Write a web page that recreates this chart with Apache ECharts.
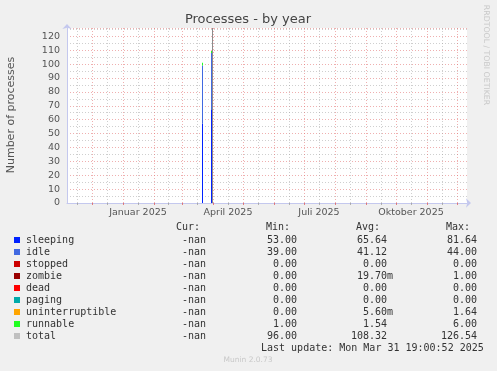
<!DOCTYPE html>
<html><head><meta charset="utf-8">
<script src="https://cdn.jsdelivr.net/npm/echarts@6/dist/echarts.min.js"></script>
<style>html,body{margin:0;padding:0;background:#f0f0f0}#c{width:497px;height:371px}</style>
</head><body><div id="c"></div><script>
// ---- axis range / ticks ----
const xStart = '2024-11-06';
const xEnd = '2025-12-11';
const monthLines = ['2024-12-01','2025-01-01','2025-02-01','2025-03-01','2025-04-01','2025-05-01','2025-06-01','2025-07-01','2025-08-01','2025-09-01','2025-10-01','2025-11-01','2025-12-01'];
const midLines = ['2024-11-16','2024-12-16','2025-01-16','2025-02-15','2025-03-16','2025-04-16','2025-05-16','2025-06-16','2025-07-16','2025-08-16','2025-09-16','2025-10-16','2025-11-16'];
const monthLabelDates = ['2025-01-16','2025-04-16','2025-07-16','2025-10-16'];
const monthLabels = ['Januar 2025','April 2025','Juli 2025','Oktober 2025'];
const yMax = 126;
const yInterval = 10;

// ---- series data (sample dates) ----
const sampleDates = ['2025-03-22','2025-03-31'];
const sleeping = [57, 67];
const idle = [42, 41];
const stopped = [0, 0];
const zombie = [0, 0];
const dead = [0, 0];
const paging = [0, 0];
const uninterruptible = [0, 0];
const runnable = [2, 1.5];
const total = [null, 126];

// ---- legend table ----
const names = ['sleeping','idle','stopped','zombie','dead','paging','uninterruptible','runnable','total'];
const colors = ['#0022ff','#4169e1','#cc0000','#990000','#ff0000','#00aaaa','#ffa500','#22ff22','#c0c0c0'];
const curVals = ['-nan','-nan','-nan','-nan','-nan','-nan','-nan','-nan','-nan'];
const minVals = ['53.00','39.00','0.00','0.00','0.00','0.00','0.00','1.00','96.00'];
const avgVals = ['65.64','41.12','0.00','19.70m','0.00','0.00','5.60m','1.54','108.32'];
const maxVals = ['81.64','44.00','0.00','1.00','0.00','0.00','1.64','6.00','126.54'];
const lastUpdate = 'Last update: Mon Mar 31 19:00:52 2025';

const ts = s => +new Date(s + 'T00:00:00Z');
const seriesValues = [sleeping, idle, stopped, zombie, dead, paging, uninterruptible, runnable];

// stack bases/tops derived from the values above
const running = sampleDates.map(() => 0);
const layers = seriesValues.map(vals => vals.map((v, j) => { const b = running[j]; running[j] += v; return [b, running[j]]; }));

// one-pixel stacked column drawn through the axes' own coordinate mapping
const makeRender = (color, side) => (params, api) => {
  const lo = api.value(1), hi = api.value(2);
  if (lo == null || hi == null || isNaN(lo) || isNaN(hi) || hi <= lo) return null;
  const pLo = api.coord([api.value(0), lo]);
  const pHi = api.coord([api.value(0), hi]);
  const x = Math.round(pLo[0]) + (side === 'left' ? -1 : 0);
  return { type:'rect', shape:{ x, y:pHi[1], width:1, height:pLo[1] - pHi[1] }, style:{ fill:color } };
};

const series = seriesValues.map((vals, i) => ({
  type:'custom', name:names[i], xAxisIndex:0, yAxisIndex:0, silent:true, animation:false, clip:true,
  encode:{ x:0, y:[1,2] },
  renderItem: makeRender(colors[i], 'left'),
  data: sampleDates.map((d, j) => [ts(d), layers[i][j][0], layers[i][j][1]])
}));
series.push({
  type:'custom', name:'total', xAxisIndex:0, yAxisIndex:0, silent:true, animation:false, clip:true,
  encode:{ x:0, y:[1,2] },
  renderItem: makeRender('#8c8c8c', 'right'),
  data: sampleDates.map((d, j) => [ts(d), total[j] == null ? null : 0, total[j]])
});

const majorColor = 'rgba(225,110,110,0.55)';
const minorColor = 'rgba(160,160,160,0.5)';
const axisColor = '#c4c8ee';
const mono = '10px "DejaVu Sans Mono"';

const graphics = [];
graphics.push({ type:'text', x:248, y:20, style:{ text:'Processes - by year', fill:'#444', font:'13px "DejaVu Sans"', align:'center', verticalAlign:'middle' }});
graphics.push({ type:'text', x:11, y:115, rotation:Math.PI/2, style:{ text:'Number of processes', fill:'#555', font:'11px "DejaVu Sans"', align:'center', verticalAlign:'middle' }});
graphics.push({ type:'text', x:486, y:55, rotation:-Math.PI/2, style:{ text:'RRDTOOL / TOBI OETIKER', fill:'#c8c8c8', font:'7.8px "DejaVu Sans"', align:'center', verticalAlign:'middle' }});
graphics.push({ type:'text', x:248, y:360, style:{ text:'Munin 2.0.73', fill:'#c8c8c8', font:'7.5px "DejaVu Sans"', align:'center', verticalAlign:'middle' }});

const headY = 227.5;
[['Cur:',176],['Min:',266],['Avg:',356],['Max:',446]].forEach(([t,x]) => {
  graphics.push({ type:'text', x, y:headY, style:{ text:t, fill:'#333', font:mono, align:'left', verticalAlign:'middle' }});
});
const charW = 6.02;
const valText = (t, edge, y) => ({ type:'text', x: /[a-z]$/.test(t) && t !== '-nan' ? edge + charW : edge, y,
  style:{ text:t, fill:'#333', font:mono, align:'right', verticalAlign:'middle' }});
names.forEach((n, i) => {
  const y = 240 + 12 * i;
  graphics.push({ type:'rect', shape:{ x:14, y:y-3, width:6, height:6 }, style:{ fill:colors[i] }});
  graphics.push({ type:'text', x:26, y, style:{ text:n, fill:'#333', font:mono, align:'left', verticalAlign:'middle' }});
  graphics.push(valText(curVals[i], 206, y));
  graphics.push(valText(minVals[i], 297, y));
  graphics.push(valText(avgVals[i], 387, y));
  graphics.push(valText(maxVals[i], 477, y));
});
graphics.push({ type:'text', x:261, y:348, style:{ text:lastUpdate, fill:'#333', font:mono, align:'left', verticalAlign:'middle' }});

const xBase = { type:'value', gridIndex:0, min: ts(xStart), max: ts(xEnd), position:'bottom', scale:true };
const labelTs = monthLabelDates.map(ts);

const option = {
  backgroundColor: '#f0f0f0',
  animation: false,
  grid: { left:67, top:28, width:400, bottom:168, show:true, backgroundColor:'#ffffff', borderWidth:0 },
  xAxis: [
    Object.assign({}, xBase, {
      axisLine:{ show:true, lineStyle:{ color:axisColor, width:1 }, symbol:['none','arrow'], symbolSize:[7,5], symbolOffset:[0,4] },
      axisTick:{ show:true, length:2, customValues: monthLines.map(ts), lineStyle:{ color:'rgba(220,80,80,0.7)' } },
      splitLine:{ show:true, lineStyle:{ color:majorColor, type:[1,2], width:1 } },
      axisLabel:{ show:false }
    }),
    Object.assign({}, xBase, {
      axisLine:{ show:false },
      axisTick:{ show:true, length:2, customValues: midLines.map(ts), lineStyle:{ color:'rgba(150,150,150,0.7)' } },
      splitLine:{ show:true, lineStyle:{ color:minorColor, type:[1,2], width:1 } },
      axisLabel:{ show:false }
    }),
    Object.assign({}, xBase, {
      axisLine:{ show:false },
      axisTick:{ show:false, customValues: labelTs },
      splitLine:{ show:false },
      axisLabel:{ show:true, customValues: labelTs, margin:5, color:'#555', fontFamily:'DejaVu Sans', fontSize:9.5,
        formatter: v => { let k = 0, best = Infinity; labelTs.forEach((t, i) => { const d = Math.abs(t - v); if (d < best) { best = d; k = i; } }); return monthLabels[k]; } }
    })
  ],
  yAxis: {
    type:'value', min:0, max:yMax, interval:yInterval,
    axisLine:{ show:true, lineStyle:{ color:axisColor, width:1 }, symbol:['none','arrow'], symbolSize:[7,5], symbolOffset:[0,4] },
    axisTick:{ show:false },
    axisLabel:{ color:'#555', fontFamily:'DejaVu Sans', fontSize:9.5, margin:7, showMaxLabel:false,
      formatter: v => (v % yInterval === 0 ? String(v) : '') },
    splitLine:{ show:true, lineStyle:{ color:majorColor, type:[1,2], width:1 } },
    minorTick:{ show:false, splitNumber:2 },
    minorSplitLine:{ show:true, lineStyle:{ color:minorColor, type:[1,2], width:1 } }
  },
  series,
  graphic: graphics
};

const chart = echarts.init(document.getElementById('c'), null, { renderer:'canvas' });
chart.setOption(option);
</script></body></html>
